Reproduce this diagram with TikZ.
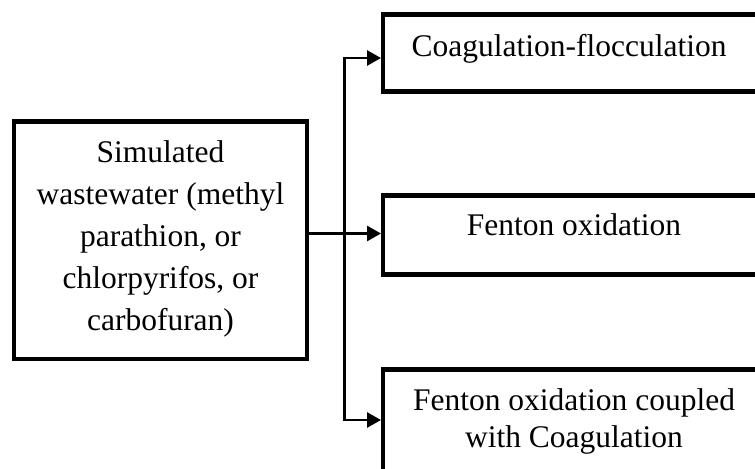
\documentclass[tikz,border=0pt]{standalone}
\usepackage{fontspec}
\setmainfont{Liberation Serif}
\usetikzlibrary{arrows.meta}
\begin{document}
\begin{tikzpicture}[x=0.5pt,y=-0.5pt,
  procbox/.style={draw=black, line width=2.25pt, rectangle, inner sep=0pt, outer sep=0pt, line join=miter},
  lbl/.style={inner sep=0pt, outer sep=0pt, align=center, font=\fontsize{15.75}{21}\selectfont},
  lbltight/.style={inner sep=0pt, outer sep=0pt, align=center, font=\fontsize{15.75}{18.5}\selectfont},
  conn/.style={draw=black, line width=1.4pt},
  arr/.style={conn, -{Triangle[length=7pt,width=7.5pt]}, shorten >=1pt}]
\useasboundingbox (0,0) rectangle (755,468);
\clip (0,0) rectangle (755,468);
\fill[white] (0,0) rectangle (755,468);
% boxes
\node[procbox, minimum width=146.5pt, minimum height=118.75pt] (src) at (160.5,240.25) {};
\node[procbox, minimum width=187.5pt, minimum height=38.5pt] (top) at (570.5,53) {};
\node[procbox, minimum width=187.5pt, minimum height=39.5pt] (mid) at (570.5,235) {};
\node[procbox, minimum width=187.5pt, minimum height=80.25pt] (bot) at (570.5,449.75) {};
% texts
\node[lbl, anchor=base] (srctxt) at (160.5,330) {Simulated\\wastewater (methyl\\parathion, or\\chlorpyrifos, or\\carbofuran)};
\node[lbl, anchor=base] (toptxt) at (569,56) {Coagulation-flocculation};
\node[lbl, anchor=base] (midtxt) at (574,235) {Fenton oxidation};
\node[lbltight, anchor=base] (bottxt) at (574,447) {Fenton oxidation coupled\\with Coagulation};
% connectors
\coordinate (vt) at (344.5,58);
\coordinate (vb) at (344.5,420);
\coordinate (jn) at (344.5,233.5);
\draw[conn, line cap=rect] (vt) -- (vb);
\draw[arr] (vt) -- (top.west |- vt);
\draw[arr] (vb) -- (bot.west |- vb);
\draw[arr] (src.east |- jn) -- (mid.west |- jn);
\end{tikzpicture}
\end{document}
